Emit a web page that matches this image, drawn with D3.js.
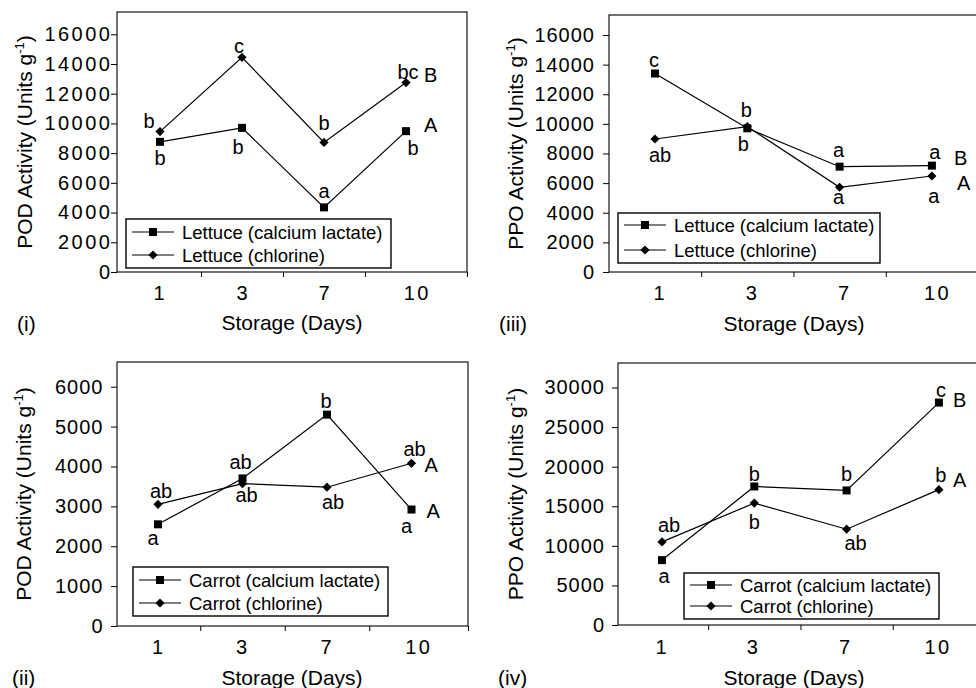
<!DOCTYPE html>
<html>
<head>
<meta charset="utf-8">
<script src="https://cdn.jsdelivr.net/npm/d3@7"></script>
<style>
  body { margin: 0; background: #fff; }
  svg { display: block; }
</style>
</head>
<body>
<div id="chart"></div>
<script>
const days = ['1', '3', '7', '10'];

const lettucePodCalcium = [8760, 9700, 4350, 9480];
const lettucePodChlorine = [9450, 14450, 8720, 12750];
const lettucePodCalciumLetters = ['b', 'b', 'a', 'b'];
const lettucePodChlorineLetters = ['b', 'c', 'b', 'bc'];
const lettucePodGroups = ['A', 'B'];

const lettucePpoCalcium = [13400, 9700, 7110, 7180];
const lettucePpoChlorine = [8980, 9810, 5720, 6480];
const lettucePpoCalciumLetters = ['c', 'b', 'a', 'a'];
const lettucePpoChlorineLetters = ['ab', 'b', 'a', 'a'];
const lettucePpoGroups = ['B', 'A'];

const carrotPodCalcium = [2550, 3700, 5300, 2920];
const carrotPodChlorine = [3050, 3570, 3480, 4080];
const carrotPodCalciumLetters = ['a', 'ab', 'b', 'a'];
const carrotPodChlorineLetters = ['ab', 'ab', 'ab', 'ab'];
const carrotPodGroups = ['A', 'A'];

const carrotPpoCalcium = [8200, 17500, 17000, 28100];
const carrotPpoChlorine = [10500, 15400, 12100, 17100];
const carrotPpoCalciumLetters = ['a', 'b', 'b', 'c'];
const carrotPpoChlorineLetters = ['ab', 'b', 'ab', 'b'];
const carrotPpoGroups = ['B', 'A'];

const lettuceTicks = [0, 2000, 4000, 6000, 8000, 10000, 12000, 14000, 16000];
const carrotPodTicks = [0, 1000, 2000, 3000, 4000, 5000, 6000];
const carrotPpoTicks = [0, 5000, 10000, 15000, 20000, 25000, 30000];

const FONT = "'Liberation Sans', Arial, Helvetica, sans-serif";
const width = 976;
const height = 688;

// pixel layout of each panel (label offsets are [dx, baseline dy] from the point)
const layoutI = {
  left: 117, right: 467, top: 12, bottom: 272, first: 160, step: 82, yMax: 17500,
  tickEnd: -7, tickSpacing: 2.5, labelShift: 0, xLabelY: 300,
  xTitleX: 292, xTitleY: 330, yTitleX: 32, tagX: 17, tagY: 331,
  legend: { x: 126, y: 219, w: 265, h: 49, rows: [232, 255] },
  calciumOff: [[0, 23], [-4, 26], [0, -9], [7, 24]],
  chlorineOff: [[-11, -4], [-3, -4], [0, -12], [2, -4]],
  groupOff: [[18, 1], [18, -1]],
};
const layoutIII = {
  left: 609, right: 979, top: 15, bottom: 272, first: 655, step: 92.3, yMax: 17350,
  tickEnd: -15, tickSpacing: 1, labelShift: 4, xLabelY: 300,
  xTitleX: 794, xTitleY: 331, yTitleX: 523, tagX: 499, tagY: 331,
  legend: { x: 618, y: 213, w: 262, h: 50, rows: [225, 250] },
  calciumOff: [[-1, -7], [-4, 23], [-1, -10], [3, -7]],
  chlorineOff: [[5, 23], [-1, -10], [-1, 17], [2, 27]],
  groupOff: [[22, -1], [25, 14]],
};
const layoutII = {
  left: 117, right: 468, top: 362, bottom: 626, first: 158, step: 84.5, yMax: 6620,
  tickEnd: -14.5, tickSpacing: 1, labelShift: -1, xLabelY: 654,
  xTitleX: 292, xTitleY: 685, yTitleX: 31, tagX: 12, tagY: 685,
  legend: { x: 133, y: 567, w: 255, h: 49, rows: [580, 603] },
  calciumOff: [[-5, 21], [-2, -9], [-1, -7], [-5, 23]],
  chlorineOff: [[3, -6], [4, 18], [6, 22], [3, -7]],
  groupOff: [[15, 8], [13, 9]],
};
const layoutIV = {
  left: 618, right: 985, top: 363, bottom: 625, first: 662, step: 92.3, yMax: 33100,
  tickEnd: -14, tickSpacing: 1, labelShift: -2, xLabelY: 654,
  xTitleX: 794, xTitleY: 685, yTitleX: 523, tagX: 498, tagY: 685,
  legend: { x: 684, y: 573, w: 255, h: 46, rows: [585, 606] },
  calciumOff: [[2, 23], [0, -5], [0, -9], [2, -6]],
  chlorineOff: [[7, -10], [0, 26], [9, 21], [2, -8]],
  groupOff: [[14, 4], [14, -3]],
};

const panels = [
  {
    tag: '(i)', enzyme: 'POD', crop: 'Lettuce', ticks: lettuceTicks,
    calcium: lettucePodCalcium, chlorine: lettucePodChlorine,
    calciumLetters: lettucePodCalciumLetters, chlorineLetters: lettucePodChlorineLetters,
    groups: lettucePodGroups, layout: layoutI,
  },
  {
    tag: '(iii)', enzyme: 'PPO', crop: 'Lettuce', ticks: lettuceTicks,
    calcium: lettucePpoCalcium, chlorine: lettucePpoChlorine,
    calciumLetters: lettucePpoCalciumLetters, chlorineLetters: lettucePpoChlorineLetters,
    groups: lettucePpoGroups, layout: layoutIII,
  },
  {
    tag: '(ii)', enzyme: 'POD', crop: 'Carrot', ticks: carrotPodTicks,
    calcium: carrotPodCalcium, chlorine: carrotPodChlorine,
    calciumLetters: carrotPodCalciumLetters, chlorineLetters: carrotPodChlorineLetters,
    groups: carrotPodGroups, layout: layoutII,
  },
  {
    tag: '(iv)', enzyme: 'PPO', crop: 'Carrot', ticks: carrotPpoTicks,
    calcium: carrotPpoCalcium, chlorine: carrotPpoChlorine,
    calciumLetters: carrotPpoCalciumLetters, chlorineLetters: carrotPpoChlorineLetters,
    groups: carrotPpoGroups, layout: layoutIV,
  },
];

const squarePath = d3.symbol().type(d3.symbolSquare).size(64)();
const diamondPath = 'M0,-4.6L4.6,0L0,4.6L-4.6,0Z';

const svg = d3
  .select('#chart')
  .append('svg')
  .attr('width', width)
  .attr('height', height)
  .style('font-family', FONT)
  .style('background', '#fff');

function drawPanel(panel) {
  const L = panel.layout;
  const g = svg.append('g');

  const x = d3
    .scaleLinear()
    .domain([0, days.length - 1])
    .range([L.first, L.first + L.step * (days.length - 1)]);
  const y = d3
    .scaleLinear()
    .domain([0, L.yMax])
    .range([L.bottom, L.top]);

  // y axis
  const yAxis = g
    .append('g')
    .attr('transform', `translate(${L.left},0)`)
    .call(
      d3
        .axisLeft(y)
        .tickValues(panel.ticks)
        .tickFormat(d3.format('d'))
        .tickSize(6)
        .tickSizeOuter(0)
    );
  yAxis.select('.domain').remove();
  yAxis.attr('font-family', FONT).attr('font-size', 20);
  yAxis.selectAll('line').attr('stroke', '#000');
  yAxis
    .selectAll('text')
    .attr('x', L.tickEnd + L.tickSpacing)
    .attr('letter-spacing', L.tickSpacing)
    .attr('fill', '#000');

  // x axis: ticks sit between the categories
  const bounds = [0.5, 1.5, 2.5, x.invert(L.right)];
  const xAxis = g
    .append('g')
    .attr('transform', `translate(0,${L.bottom})`)
    .call(d3.axisBottom(x).tickValues(bounds).tickSize(5).tickFormat(''));
  xAxis.select('.domain').remove();
  xAxis.selectAll('line').attr('stroke', '#000');

  const edges = [L.left, x(0.5), x(1.5), x(2.5), L.right];
  g.selectAll('.day')
    .data(days)
    .join('text')
    .attr('class', 'day')
    .attr('x', (d, i) => (edges[i] + edges[i + 1]) / 2 + L.labelShift + 1.25)
    .attr('y', L.xLabelY)
    .attr('text-anchor', 'middle')
    .attr('font-size', 20)
    .attr('letter-spacing', 2.5)
    .text(d => d);

  // frame
  g.append('rect')
    .attr('x', L.left)
    .attr('y', L.top)
    .attr('width', L.right - L.left)
    .attr('height', L.bottom - L.top)
    .attr('fill', 'none')
    .attr('stroke', '#000')
    .attr('stroke-width', 1.1);

  const line = d3
    .line()
    .x((d, i) => x(i))
    .y(d => y(d));

  const series = [
    { values: panel.chlorine, letters: panel.chlorineLetters, off: L.chlorineOff, shape: diamondPath, group: panel.groups[1], groupOff: L.groupOff[1] },
    { values: panel.calcium, letters: panel.calciumLetters, off: L.calciumOff, shape: squarePath, group: panel.groups[0], groupOff: L.groupOff[0] },
  ];

  series.forEach(s => {
    g.append('path')
      .datum(s.values)
      .attr('d', line)
      .attr('fill', 'none')
      .attr('stroke', '#000')
      .attr('stroke-width', 1.2);

    g.selectAll(null)
      .data(s.values)
      .join('path')
      .attr('d', s.shape)
      .attr('transform', (d, i) => `translate(${x(i)},${y(d)})`)
      .attr('fill', '#000');

    g.selectAll(null)
      .data(s.values)
      .join('text')
      .attr('x', (d, i) => x(i) + s.off[i][0])
      .attr('y', (d, i) => y(d) + s.off[i][1])
      .attr('text-anchor', 'middle')
      .attr('font-size', 20)
      .text((d, i) => s.letters[i]);

    const last = s.values.length - 1;
    g.append('text')
      .attr('x', x(last) + s.groupOff[0])
      .attr('y', y(s.values[last]) + s.groupOff[1])
      .attr('font-size', 20)
      .text(s.group);
  });

  // legend
  const lg = L.legend;
  g.append('rect')
    .attr('x', lg.x)
    .attr('y', lg.y)
    .attr('width', lg.w)
    .attr('height', lg.h)
    .attr('fill', '#fff')
    .attr('stroke', '#000')
    .attr('stroke-width', 1.4);

  const entries = [
    { name: panel.crop + ' (calcium lactate)', shape: squarePath },
    { name: panel.crop + ' (chlorine)', shape: diamondPath },
  ];
  entries.forEach((e, i) => {
    const ry = lg.rows[i];
    g.append('line')
      .attr('x1', lg.x + 6)
      .attr('x2', lg.x + 48)
      .attr('y1', ry)
      .attr('y2', ry)
      .attr('stroke', '#000')
      .attr('stroke-width', 1.2);
    g.append('path')
      .attr('d', e.shape)
      .attr('transform', `translate(${lg.x + 27},${ry})`)
      .attr('fill', '#000');
    g.append('text')
      .attr('x', lg.x + 56)
      .attr('y', ry + 6.5)
      .attr('font-size', 18.5)
      .text(e.name);
  });

  // axis titles
  const yTitle = g
    .append('text')
    .attr('transform', `translate(${L.yTitleX},${(L.top + L.bottom) / 2}) rotate(-90)`)
    .attr('text-anchor', 'middle')
    .attr('font-size', 21);
  yTitle.append('tspan').text(panel.enzyme + ' Activity (Units g');
  yTitle.append('tspan').attr('font-size', 13).attr('dy', -8).text('-1');
  yTitle.append('tspan').attr('dy', 8).text(')');

  g.append('text')
    .attr('x', L.xTitleX)
    .attr('y', L.xTitleY)
    .attr('text-anchor', 'middle')
    .attr('font-size', 21)
    .text('Storage (Days)');

  g.append('text')
    .attr('x', L.tagX)
    .attr('y', L.tagY)
    .attr('font-size', 21)
    .text(panel.tag);
}

panels.forEach(drawPanel);
</script>
</body>
</html>
